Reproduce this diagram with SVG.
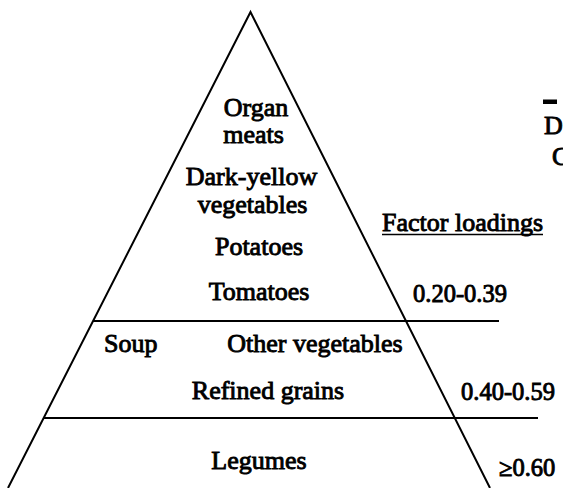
<svg xmlns="http://www.w3.org/2000/svg" width="563" height="488" viewBox="0 0 563 488">
<style>
.t{font-family:"Liberation Serif","Times New Roman",serif;font-size:26px;fill:#000;stroke:#000;stroke-width:0.9}
.n{font-size:24.5px}
.c{text-anchor:middle}
.ln{stroke:#000;stroke-width:2;fill:none}
</style>
<rect width="563" height="488" fill="#fff"/>
<g id="pyramid">
<polyline class="ln" points="8,488 250.5,12 490,488" stroke-linejoin="miter"/>
<line class="ln" x1="93" y1="321" x2="499" y2="321"/>
<line class="ln" x1="44" y1="418" x2="538" y2="418"/>
</g>
<g id="tier-top">
<text class="t c" x="256" y="116">Organ</text>
<text class="t c" x="253.5" y="143">meats</text>
<text class="t c" x="251.5" y="185">Dark-yellow</text>
<text class="t c" x="252.5" y="213">vegetables</text>
<text class="t c" x="259" y="255">Potatoes</text>
<text class="t c" x="259" y="300">Tomatoes</text>
</g>
<g id="tier-middle">
<text class="t" x="104" y="352">Soup</text>
<text class="t c" x="315" y="352">Other vegetables</text>
<text class="t c" x="268" y="399">Refined grains</text>
</g>
<g id="tier-bottom">
<text class="t c" x="259" y="469">Legumes</text>
</g>
<g id="legend">
<text class="t" x="382" y="231">Factor loadings</text>
<line x1="382" y1="234.5" x2="543" y2="234.5" stroke="#000" stroke-width="1.6"/>
<text class="t n" x="413" y="301.5">0.20-0.39</text>
<text class="t n" x="461" y="400">0.40-0.59</text>
<text class="t n" x="499" y="475.5">≥0.60</text>
</g>
<g id="cut-off">
<rect x="543" y="99.5" width="14" height="4.5" fill="#000"/>
<text class="t" x="544" y="134">D</text>
<text class="t" x="552" y="165">C</text>
</g>
</svg>
